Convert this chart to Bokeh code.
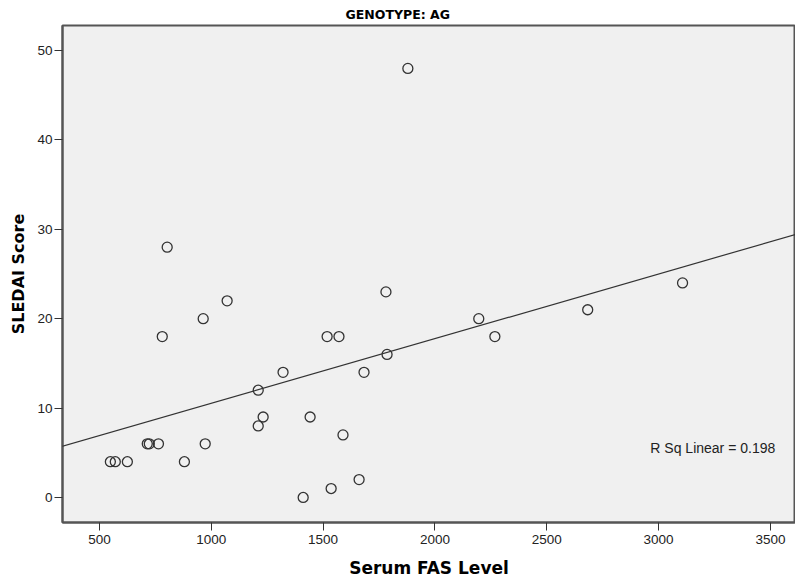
import numpy as np
from bokeh.plotting import figure
from bokeh.models import Range1d, Slope, Label, FixedTicker
from bokeh.embed import file_html
from bokeh.resources import INLINE

# Data
fas_level = [549, 571, 625, 714, 723, 764, 781, 803, 880, 964, 973, 1071,
             1210, 1210, 1232, 1321, 1411, 1442, 1518, 1536, 1571, 1589,
             1661, 1683, 1781, 1786, 1879, 2196, 2268, 2683, 3107]
sledai = [4, 4, 4, 6, 6, 6, 18, 28, 4, 20, 6, 22,
          12, 8, 9, 14, 0, 9, 18, 1, 18, 7,
          2, 14, 23, 16, 48, 20, 18, 21, 24]
x_ticks = [500, 1000, 1500, 2000, 2500, 3000, 3500]
y_ticks = [0, 10, 20, 30, 40, 50]
title_text = "GENOTYPE: AG"
r_sq_text = "R Sq Linear = 0.198"

slope, intercept = np.polyfit(fas_level, sledai, 1)

FONT = "Liberation Sans"
BOLD_FONT = "DejaVu Sans"
DARK = "#333333"

p = figure(width=795, height=580, output_backend="svg", toolbar_location=None,
           x_range=Range1d(335, 3612), y_range=Range1d(-2.8, 52.8),
           min_border_left=62, min_border_right=0, min_border_top=23,
           min_border_bottom=57)

p.title.text = title_text
p.title.align = "left"
p.title.offset = 283
p.title.text_font = BOLD_FONT
p.title.text_font_size = "12.5px"
p.title.text_font_style = "bold"
p.title.text_color = "black"
p.title.standoff = 8

p.background_fill_color = "#f0f0f0"
p.border_fill_color = "white"
p.outline_line_color = "#555555"
p.outline_line_width = 2
p.grid.visible = False

for ax in (p.xaxis, p.yaxis):
    ax.axis_line_color = "#555555"
    ax.axis_line_width = 2
    ax.major_tick_line_color = DARK
    ax.major_tick_line_width = 1
    ax.major_tick_in = 0
    ax.major_tick_out = 8
    ax.minor_tick_line_color = None
    ax.major_label_text_font = FONT
    ax.major_label_text_font_size = "13.5px"
    ax.major_label_text_color = "#222222"
    ax.axis_label_text_font = BOLD_FONT
    ax.axis_label_text_font_style = "bold"
    ax.axis_label_text_color = "black"

p.xaxis.axis_label_text_font_size = "17px"
p.yaxis.axis_label_text_font_size = "16px"
p.xaxis.ticker = FixedTicker(ticks=x_ticks)
p.yaxis.ticker = FixedTicker(ticks=y_ticks)
p.xaxis.axis_label = "Serum FAS Level"
p.yaxis.axis_label = "SLEDAI Score"
p.xaxis.major_label_standoff = 4
p.yaxis.major_label_standoff = 2
p.xaxis.axis_label_standoff = 11
p.yaxis.axis_label_standoff = 6

p.add_layout(Slope(gradient=slope, y_intercept=intercept,
                   line_color=DARK, line_width=1.2))

p.scatter(fas_level, sledai, marker="circle", size=10,
          fill_color=None, line_color=DARK, line_width=1.3)

p.add_layout(Label(x=2963, y=5.56, text=r_sq_text, text_font=FONT,
                   text_font_size="14px", text_color="#222222",
                   text_baseline="middle", text_align="left"))

open("out.html", "w").write(file_html(p, INLINE))
